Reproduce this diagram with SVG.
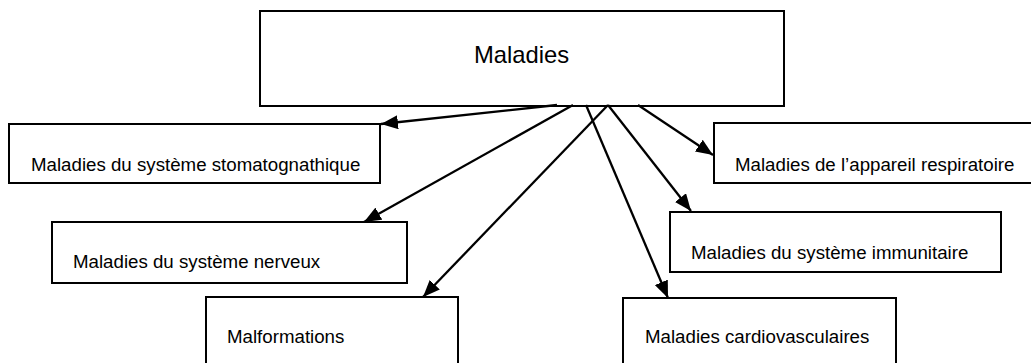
<svg xmlns="http://www.w3.org/2000/svg" width="1031" height="363" viewBox="0 0 1031 363">
<style>
.box{fill:#fff;stroke:#000;stroke-width:2}
.lbl{font-family:"Liberation Sans",Arial,sans-serif;font-size:18.7px;fill:#000}
.title{font-family:"Liberation Sans",Arial,sans-serif;font-size:23.8px;fill:#000}
.conn{stroke:#000;stroke-width:2.3;fill:none;marker-end:url(#arr)}
</style>
<defs>
<marker id="arr" markerUnits="userSpaceOnUse" markerWidth="17" markerHeight="14" refX="17" refY="7" orient="auto">
<path d="M0,0 L17,7 L0,14 z" fill="#000"/>
</marker>
</defs>
<rect width="1031" height="363" fill="#fff"/>
<g id="root">
<rect class="box" x="260" y="11" width="524" height="95"/>
<text class="title" x="474" y="63">Maladies</text>
</g>
<g id="n-stomato">
<rect class="box" x="9" y="124" width="371" height="59"/>
<text class="lbl" x="31" y="171">Maladies du système stomatognathique</text>
</g>
<g id="n-nerveux">
<rect class="box" x="52" y="222" width="355" height="61"/>
<text class="lbl" x="73" y="268">Maladies du système nerveux</text>
</g>
<g id="n-malformations">
<rect class="box" x="206" y="297" width="252" height="80"/>
<text class="lbl" x="227" y="343">Malformations</text>
</g>
<g id="n-respiratoire">
<rect class="box" x="714" y="123" width="330" height="60"/>
<text class="lbl" x="735" y="171">Maladies de l’appareil respiratoire</text>
</g>
<g id="n-immunitaire">
<rect class="box" x="670" y="212" width="331" height="60"/>
<text class="lbl" x="691" y="259">Maladies du système immunitaire</text>
</g>
<g id="n-cardio">
<rect class="box" x="623" y="298" width="273" height="80"/>
<text class="lbl" x="645" y="343">Maladies cardiovasculaires</text>
</g>
<g id="connectors">
<line class="conn" x1="557" y1="105" x2="381" y2="124"/>
<line class="conn" x1="573" y1="105" x2="364" y2="222"/>
<line class="conn" x1="608" y1="105" x2="423" y2="297"/>
<line class="conn" x1="586" y1="105" x2="668" y2="298"/>
<line class="conn" x1="608" y1="105" x2="691" y2="211"/>
<line class="conn" x1="638" y1="105" x2="713" y2="155"/>
</g>
</svg>
